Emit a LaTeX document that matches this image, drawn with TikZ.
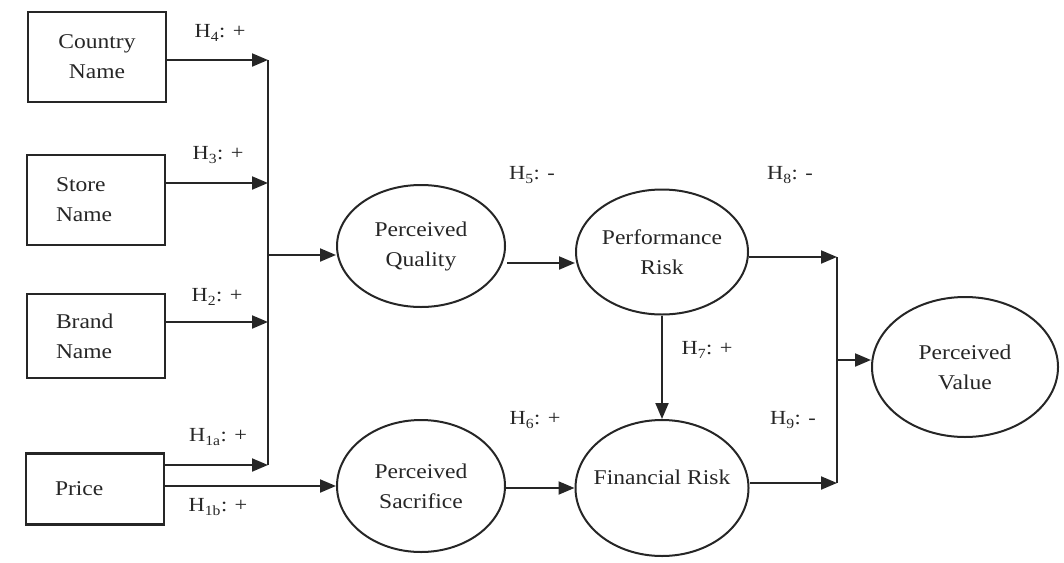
\documentclass[tikz,border=0pt]{standalone}
\usepackage{fontspec}
\setmainfont{Liberation Serif}[FakeStretch=1.12]
\usetikzlibrary{arrows.meta,shapes.geometric}
\definecolor{ink}{HTML}{262626}
\begin{document}
\begin{tikzpicture}[x=1pt,y=-1pt,
  every node/.style={font=\fontsize{21}{30}\selectfont, text=ink},
  box/.style={draw=ink, line width=2.6pt, rectangle, minimum width=138pt, inner sep=0pt, text width=80pt},
  construct/.style={draw=ink, line width=2pt, ellipse, inner sep=0pt, align=center},
  link/.style={draw=ink, line width=2pt, -{Triangle[length=16pt,width=13pt]}},
  bus/.style={draw=ink, line width=2pt},
  hyp/.style={font=\fontsize{20}{24}\selectfont, inner sep=0pt}]
\useasboundingbox (0,0) rectangle (1064,562);

% antecedents
\node[box, minimum height=90pt, align=center] (cn) at (97,57) {Country\\Name};
\node[box, minimum height=90pt, align=left] (sn) at (96,200) {Store\\Name};
\node[box, minimum height=84pt, align=left] (bn) at (96,336) {Brand\\Name};
\node[box, minimum height=71pt, align=left] (pr) at (95,489) {Price};

% constructs
\node[construct, minimum width=168pt, minimum height=122pt] (pq) at (421,246) {Perceived\\Quality};
\node[construct, minimum width=168pt, minimum height=132pt] (ps) at (421,486) {Perceived\\Sacrifice};
\node[construct, minimum width=172pt, minimum height=125pt] (prk) at (662,252) {Performance\\Risk};
\node[construct, minimum width=173pt, minimum height=136pt, inner xsep=-8pt, inner ysep=-8pt, text depth=22pt] (fr) at (662,488) {Financial Risk};
\node[construct, minimum width=186pt, minimum height=140pt] (pv) at (965,367) {Perceived\\Value};

% left collector line
\coordinate (lt) at (268,60);
\coordinate (ls) at (268,183);
\coordinate (lbr) at (268,322);
\coordinate (lb) at (268,465);
\coordinate (lq) at (268,255);
\draw[bus] (lt) -- (lb);
\draw[link] (cn.east |- lt) -- (lt);
\draw[link] (sn.east |- ls) -- (ls);
\draw[link] (bn.east |- lbr) -- (lbr);
\draw[link] (pr.east |- lb) -- (lb);
\draw[link] (lq) -- (lq -| pq.west);
\draw[link] (pr.east |- ps.west) -- (ps.west);

% middle paths
\coordinate (qa) at (507,263);
\draw[link] (qa) -- (qa -| prk.west);
\draw[link] (ps.east |- fr.west) -- (fr.west);
\draw[link] (prk.south) -- (fr.north);

% right collector line
\coordinate (rt) at (837,257);
\coordinate (rb) at (837,483);
\coordinate (rv) at (837,360);
\draw[bus] (rt) -- (rb);
\draw[link] (prk.east |- rt) -- (rt);
\draw[link] (fr.east |- rb) -- (rb);
\draw[link] (rv) -- (rv -| pv.west);

% hypothesis labels
\node[hyp] (h4) at (220,33) {H\textsubscript{4}: +};
\node[hyp] (h3) at (218,155) {H\textsubscript{3}: +};
\node[hyp] (h2) at (217,297) {H\textsubscript{2}: +};
\node[hyp] (h1a) at (218,437) {H\textsubscript{1a}: +};
\node[hyp] (h1b) at (218,507) {H\textsubscript{1b}: +};
\node[hyp] (h5) at (532,175) {H\textsubscript{5}: -};
\node[hyp] (h8) at (790,175) {H\textsubscript{8}: -};
\node[hyp] (h7) at (707,350) {H\textsubscript{7}: +};
\node[hyp] (h6) at (535,420) {H\textsubscript{6}: +};
\node[hyp] (h9) at (793,420) {H\textsubscript{9}: -};
\end{tikzpicture}
\end{document}
